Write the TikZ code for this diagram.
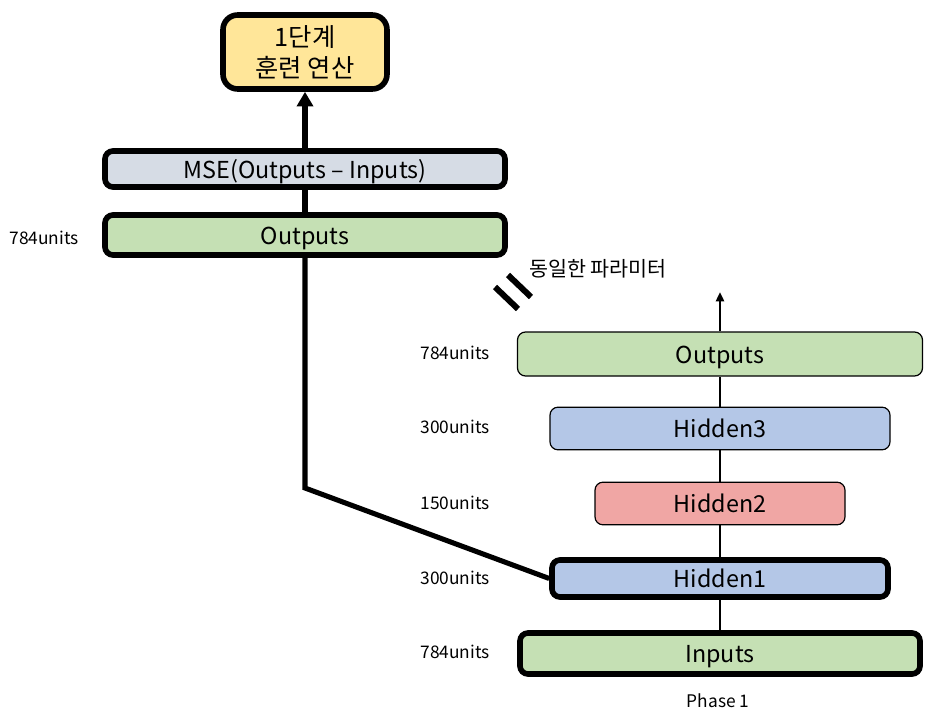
\documentclass[tikz,border=0pt]{standalone}
\usepackage{fontspec}
\setmainfont{Noto Sans CJK KR}
\usetikzlibrary{arrows.meta}
\definecolor{cyellow}{RGB}{255,230,153}
\definecolor{cgray}{RGB}{214,220,229}
\definecolor{cgreen}{RGB}{197,224,180}
\definecolor{cblue}{RGB}{180,199,231}
\definecolor{cpink}{RGB}{240,166,164}
\tikzset{
  layerbox/.style={draw=black, rounded corners=6pt, inner sep=0pt, font=\fontsize{17.5}{20}\selectfont, text height=14pt, text depth=0pt},
  boldbox/.style={layerbox, line width=4.2pt},
  thinbox/.style={layerbox, line width=0.9pt},
  unitlabel/.style={font=\fontsize{13}{15}\selectfont, inner sep=0pt},
  thickline/.style={line width=3.8pt},
  thinline/.style={line width=1.8pt},
}
\begin{document}
\begin{tikzpicture}[x=0.75pt,y=-0.75pt]
\useasboundingbox (0,0) rectangle (951,717);
% left column
\node[draw=black, line width=4.2pt, inner sep=0pt, align=center, fill=cyellow, rounded corners=11pt, minimum width=123pt, minimum height=55.5pt, font=\fontsize{19}{23}\selectfont] (train) at (305,52) {1단계\\훈련 연산};
\node[boldbox, fill=cgray, minimum width=300pt, minimum height=27pt] (mse) at (305,169) {MSE(Outputs – Inputs)};
\node[boldbox, fill=cgreen, minimum width=300pt, minimum height=30pt] (lout) at (305,235) {Outputs};
\node[unitlabel] (lu) at (44,238) {784units};
% right column
\node[thinbox, fill=cgreen, minimum width=303.75pt, minimum height=33pt] (rout) at (720,354) {Outputs};
\node[thinbox, fill=cblue, minimum width=255pt, minimum height=32pt] (h3) at (720,428.5) {Hidden3};
\node[thinbox, fill=cpink, minimum width=187.5pt, minimum height=32pt] (h2) at (720,503.5) {Hidden2};
\node[boldbox, fill=cblue, minimum width=252pt, minimum height=27.75pt] (h1) at (720,578.5) {Hidden1};
\node[boldbox, fill=cgreen, minimum width=300pt, minimum height=30.75pt] (inp) at (720,653.5) {Inputs};
\node[unitlabel] (u1) at (455,353) {784units};
\node[unitlabel] (u2) at (455,427) {300units};
\node[unitlabel] (u3) at (455,503) {150units};
\node[unitlabel] (u4) at (455,578) {300units};
\node[unitlabel] (u5) at (455,652) {784units};
\node[unitlabel] (phase) at (718,701) {Phase 1};
\node[unitlabel, anchor=west, font=\fontsize{15.5}{18}\selectfont] (same) at (529,269) {동일한 파라미터};
% connectors left
\draw[thickline, -{Triangle[width=12pt,length=11pt]}] (mse.north) -- (train.south);
\draw[thickline] (mse.south) -- (lout.north);
\coordinate (bend) at (305,488);
\draw[thickline] (lout.south) -- (bend) -- (h1.west);
% connectors right
\coordinate (rtop) at (720,292);
\draw[thinline] (inp.north) -- (h1.south);
\draw[thinline] (h1.north) -- (h2.south);
\draw[thinline] (h2.north) -- (h3.south);
\draw[thinline] (h3.north) -- (rout.south);
\draw[thinline, -{Triangle[width=6pt,length=7pt]}] (rout.north) -- (rtop);
% equals sign
\coordinate (e1a) at (495,287);
\coordinate (e1b) at (518,309);
\coordinate (e2a) at (508,275);
\coordinate (e2b) at (531,297);
\draw[line width=4.5pt] (e1a) -- (e1b);
\draw[line width=4.5pt] (e2a) -- (e2b);
\end{tikzpicture}
\end{document}
